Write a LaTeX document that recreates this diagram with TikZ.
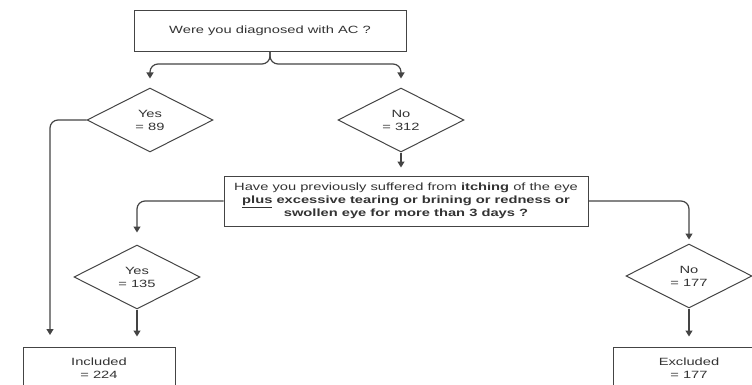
\documentclass[tikz,border=0pt]{standalone}
\usepackage{fontspec}
\setmainfont{Liberation Sans}[FakeStretch=1.4]
\usetikzlibrary{shapes.geometric,arrows.meta}
\definecolor{ln}{HTML}{444444}
\definecolor{tx}{HTML}{333333}
\begin{document}
\begin{tikzpicture}[x=1pt,y=-1pt,
  every node/.style={font=\fontsize{10.5}{13}\selectfont, text=tx, align=center, inner sep=0pt},
  box/.style={draw=ln, line width=1pt, rectangle},
  dia/.style={draw=ln, line width=1pt, diamond, minimum width=126pt, minimum height=64pt},
  conn/.style={draw=ln, line width=1.2pt, rounded corners=8pt, -{Triangle[width=7pt,length=6pt]}}]
\useasboundingbox (0,0) rectangle (752,385);
\node[box, minimum width=272pt, minimum height=41pt] (top) at (270,31) {Were you diagnosed with AC ?};
\node[dia] (yes1) at (150,120) {Yes\\= 89};
\node[dia] (no1) at (401,120) {No\\= 312};
\node[box, minimum width=364pt, minimum height=50pt] (mid) at (406,201)
  {Have you previously suffered from \textbf{itching} of the eye\\
   \textbf{\underline{plus} excessive tearing or brining or redness or}\\
   \textbf{swollen eye for more than 3 days ?}};
\node[dia] (yes2) at (137,277) {Yes\\= 135};
\node[dia] (no2) at (689,276) {No\\= 177};
\node[box, minimum width=152pt, minimum height=42pt] (inc) at (99,368) {Included\\= 224};
\node[box, minimum width=152pt, minimum height=42pt] (exc) at (689,368) {Excluded\\= 177};
\coordinate (split) at (270,64);
\coordinate (incl) at (50,347);
\draw[conn, shorten >=9pt] (top.south) -- (split) -| (yes1.north);
\draw[conn, shorten >=9pt] (top.south) -- (split) -| (no1.north);
\draw[conn, shorten >=8pt] (no1.south) -- (no1.south |- mid.north);
\draw[conn, shorten >=12pt] (yes1.west) -| (incl);
\draw[conn, shorten >=12pt] (mid.west) -| (yes2.north);
\draw[conn, shorten >=4pt] (mid.east) -| (no2.north);
\draw[conn, shorten >=10pt] (yes2.south) -- (yes2.south |- inc.north);
\draw[conn, shorten >=10pt] (no2.south) -- (exc.north);
\end{tikzpicture}
\end{document}
